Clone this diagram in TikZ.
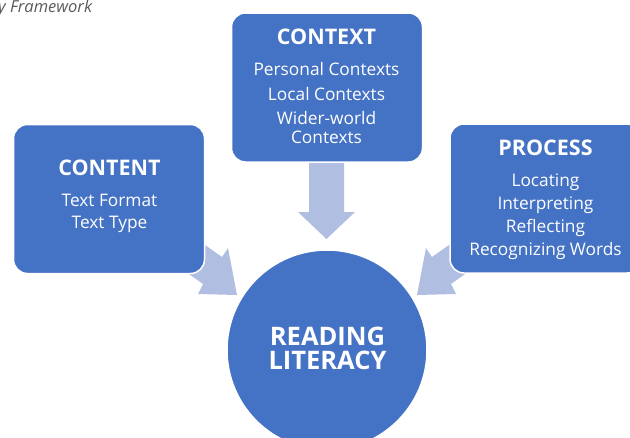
\documentclass[tikz,border=0pt]{standalone}
\usepackage{fontspec}
\setmainfont{Open Sans}
\definecolor{boxblue}{HTML}{4472C4}
\definecolor{arrowblue}{RGB}{176,190,225}
\definecolor{captiongray}{HTML}{595959}
\begin{document}
\begin{tikzpicture}[x=1pt,y=-1pt,
  box/.style={draw=white, line width=1.5pt, fill=boxblue, rounded corners=14pt,
    minimum width=191pt, minimum height=149pt, inner sep=0pt},
  hub/.style={circle, draw=white, line width=1.5pt, fill=boxblue, minimum size=200pt, inner sep=0pt},
  blockarrow/.style={fill=arrowblue},
  headtext/.style={text=white, font=\fontsize{21.5}{24}\selectfont\bfseries, anchor=base, inner sep=0pt},
  bodytext/.style={text=white, font=\fontsize{17.3}{20}\selectfont, anchor=base, inner sep=0pt},
  hubtext/.style={text=white, font=\fontsize{25.5}{28}\selectfont\bfseries, anchor=base, inner sep=0pt}]
\useasboundingbox (0,0) rectangle (630,437);
\clip (0,0) rectangle (630,437);

% caption fragment
\node[anchor=base west, inner sep=0pt, text=captiongray, font=\fontsize{16.5}{18}\selectfont\itshape] (cap) at (-2,12.5) {y Framework};

% block arrows (behind the boxes)
\fill[blockarrow] (181,228) -- (222,257) -- (228,248) -- (237,295) -- (198,294) -- (203,284) -- (162,255) -- cycle;
\fill[blockarrow] (473,228) -- (432,257) -- (426,248) -- (417,295) -- (456,294) -- (451,284) -- (492,255) -- cycle;
\fill[blockarrow] (309,150) -- (344,150) -- (344,212) -- (355,212) -- (326.5,239) -- (298,212) -- (309,212) -- cycle;

% boxes
\node[box] (content) at (109,199) {};
\node[box] (context) at (327,87.5) {};
\node[box] (process) at (545.5,198.5) {};
\node[hub] (lit) at (327,350) {};

% CONTENT texts
\node[headtext] (contenth) at (109.5,175) {CONTENT};
\node[bodytext] (content1) at (109.5,206.5) {Text Format};
\node[bodytext] (content2) at (109.5,228.5) {Text Type};

% CONTEXT texts
\node[headtext] (contexth) at (326.5,44) {CONTEXT};
\node[bodytext] (context1) at (326.5,75) {Personal Contexts};
\node[bodytext] (context2) at (326.5,100) {Local Contexts};
\node[bodytext] (context3) at (326.5,124.5) {Wider-world};
\node[bodytext] (context4) at (326.5,143.5) {Contexts};

% PROCESS texts
\node[headtext] (processh) at (545.5,155) {PROCESS};
\node[bodytext] (process1) at (545.5,186) {Locating};
\node[bodytext] (process2) at (545.5,209) {Interpreting};
\node[bodytext] (process3) at (545.5,232.5) {Reflecting};
\node[bodytext] (process4) at (545.5,255.5) {Recognizing Words};

% hub texts
\node[hubtext] (lit1) at (327.5,345) {READING};
\node[hubtext] (lit2) at (327.5,369) {LITERACY};
\end{tikzpicture}
\end{document}
